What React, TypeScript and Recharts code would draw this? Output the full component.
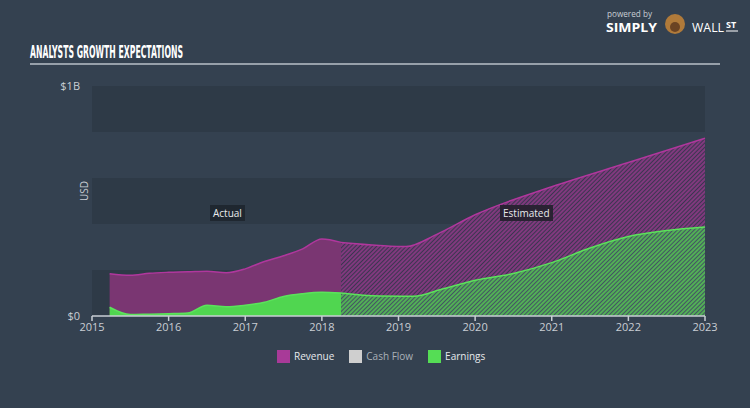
import React from "react"
import { AreaChart, Area, XAxis, YAxis, ReferenceArea } from "recharts"

document.body.style.margin = "0"

// historical values (USD billions), quarterly
const actualYears = [2015.23, 2015.5, 2015.75, 2016.0, 2016.25, 2016.5, 2016.75, 2017.0, 2017.25, 2017.5, 2017.75, 2018.0, 2018.25]
const actualRevenue = [0.184, 0.177, 0.186, 0.19, 0.192, 0.195, 0.188, 0.205, 0.237, 0.262, 0.292, 0.335, 0.32]
const actualEarnings = [0.038, 0.006, 0.008, 0.01, 0.013, 0.047, 0.04, 0.047, 0.06, 0.085, 0.097, 0.103, 0.1]

// analyst estimates
const estRevYears = [2018.25, 2018.75, 2019.1, 2019.5, 2020.0, 2021.0, 2022.0, 2023.0]
const estRevenue = [0.32, 0.307, 0.302, 0.355, 0.44, 0.562, 0.667, 0.773]
const estEarnYears = [2018.25, 2018.75, 2019.2, 2019.55, 2020.0, 2020.5, 2021.0, 2021.5, 2022.0, 2022.5, 2023.0]
const estEarnings = [0.1, 0.087, 0.086, 0.115, 0.155, 0.185, 0.232, 0.296, 0.346, 0.372, 0.387]

const yearTicks = [2015, 2016, 2017, 2018, 2019, 2020, 2021, 2022, 2023]
const bands = [[0, 0.2], [0.4, 0.6], [0.8, 1.0]]

const zip = (xs: number[], ys: number[]) => xs.map((x, i) => ({ x, v: ys[i] }))

const BG = "#344150"
const BAND = "#2e3a47"
const TXT = "#c9ced4"
const FONT = "'Open Sans', sans-serif"

const legendItems = [
  { name: "Revenue", color: "#a83a98", text: "#e6e9ec" },
  { name: "Cash Flow", color: "#cfcfcf", text: "#aab1b8" },
  { name: "Earnings", color: "#55dd55", text: "#e6e9ec" },
]

export default function App() {
  return (
    <div style={{ position: "relative", width: 750, height: 408, background: BG, fontFamily: FONT, overflow: "hidden" }}>
      <svg width={750} height={70} style={{ position: "absolute", left: 0, top: 0 }}>
        <text x={30} y={58} fill="#ffffff" fontFamily="'DejaVu Sans Condensed', 'Liberation Sans Narrow', sans-serif" fontWeight="bold" fontSize={17} textLength={153} lengthAdjust="spacingAndGlyphs">
          ANALYSTS GROWTH EXPECTATIONS
        </text>
        <line x1={30} x2={720} y1={64} y2={64} stroke="#b9c1c9" strokeWidth={1.5} />
        <text x={607} y={17} fill="#c9ced4" fontSize={9} fontFamily={FONT} textLength={45} lengthAdjust="spacingAndGlyphs">powered by</text>
        <text x={606} y={32} fill="#ffffff" fontSize={12} fontWeight="bold" fontFamily={FONT} textLength={51} lengthAdjust="spacingAndGlyphs">SIMPLY</text>
        <circle cx={675} cy={24} r={10} fill="#b07a3a" />
        <circle cx={675} cy={27} r={5} fill="#6b4323" />
        <text x={692} y={32} fill="#ffffff" fontSize={12} fontFamily={FONT} textLength={32} lengthAdjust="spacingAndGlyphs">WALL</text>
        <text x={726} y={28} fill="#ffffff" fontSize={9} fontWeight="bold" fontFamily={FONT}>ST</text>
        <line x1={726} x2={738} y1={31} y2={31} stroke="#fff" strokeWidth={1} />
      </svg>

      <div style={{ position: "absolute", left: 0, top: 0 }}>
        <AreaChart width={750} height={408} margin={{ top: 86, right: 45, bottom: 62, left: 32 }}>
          <defs>
            <pattern id="hatchRev" width={3} height={3} patternUnits="userSpaceOnUse" patternTransform="rotate(45)">
              <rect width={3} height={3} fill="#3b3650" />
              <line x1={1} y1={0} x2={1} y2={3} stroke="#923a8a" strokeWidth={1.6} />
            </pattern>
            <pattern id="hatchEarn" width={3} height={3} patternUnits="userSpaceOnUse" patternTransform="rotate(45)">
              <rect width={3} height={3} fill="#435463" />
              <line x1={1} y1={0} x2={1} y2={3} stroke="#56c653" strokeWidth={1.6} />
            </pattern>
          </defs>
          <XAxis
            dataKey="x"
            type="number"
            domain={[2015, 2023]}
            ticks={yearTicks}
            allowDuplicatedCategory={false}
            height={30}
            tick={{ fill: TXT, fontSize: 11, fontFamily: FONT }}
            axisLine={{ stroke: "#c9ced4", strokeWidth: 1.5 }}
            tickLine={{ stroke: "#c9ced4", strokeWidth: 1.5 }}
            tickSize={5}
            tickMargin={2}
          />
          <YAxis
            type="number"
            domain={[0, 1]}
            ticks={[0, 1]}
            width={60}
            axisLine={false}
            tickLine={false}
            tickSize={0}
            tickMargin={12}
            tickFormatter={(v: number) => (v === 0 ? "$0" : "$1B")}
            tick={{ fill: TXT, fontSize: 11, fontFamily: FONT }}
            label={{ value: "USD", angle: -90, position: "insideLeft", offset: 52, fill: TXT, fontSize: 10, fontFamily: FONT }}
          />
          {bands.map((b, i) => (
            <ReferenceArea key={i} x1={2015} x2={2023} y1={b[0]} y2={b[1]} fill={BAND} fillOpacity={1} stroke="none" ifOverflow="visible" />
          ))}
          <Area data={zip(actualYears, actualRevenue)} dataKey="v" type="monotone" fill="#7a3672" fillOpacity={1} stroke="#b0379d" strokeWidth={1.5} isAnimationActive={false} dot={false} activeDot={false} />
          <Area data={zip(estRevYears, estRevenue)} dataKey="v" type="monotone" fill="url(#hatchRev)" fillOpacity={1} stroke="#b0379d" strokeWidth={1.5} isAnimationActive={false} dot={false} activeDot={false} />
          <Area data={zip(actualYears, actualEarnings)} dataKey="v" type="monotone" fill="#50d650" fillOpacity={1} stroke="#5be35b" strokeWidth={1.5} isAnimationActive={false} dot={false} activeDot={false} />
          <Area data={zip(estEarnYears, estEarnings)} dataKey="v" type="monotone" fill="url(#hatchEarn)" fillOpacity={1} stroke="#5be35b" strokeWidth={1.5} isAnimationActive={false} dot={false} activeDot={false} />
        </AreaChart>
      </div>

      <div style={{ position: "absolute", left: 210, top: 205, background: "#1f2730", color: "#e8eaec", fontSize: 10, padding: "2px 3px", lineHeight: "12px" }}>Actual</div>
      <div style={{ position: "absolute", left: 500, top: 205, background: "#2a2233", color: "#e8eaec", fontSize: 10, padding: "2px 3px", lineHeight: "12px" }}>Estimated</div>

      <div style={{ position: "absolute", top: 349, left: 277, display: "flex", alignItems: "center", fontSize: 10 }}>
        {legendItems.map((it) => (
          <div key={it.name} style={{ display: "flex", alignItems: "center", marginRight: 15 }}>
            <div style={{ width: 13, height: 13, background: it.color, marginRight: 4 }} />
            <span style={{ color: it.text }}>{it.name}</span>
          </div>
        ))}
      </div>
    </div>
  )
}
